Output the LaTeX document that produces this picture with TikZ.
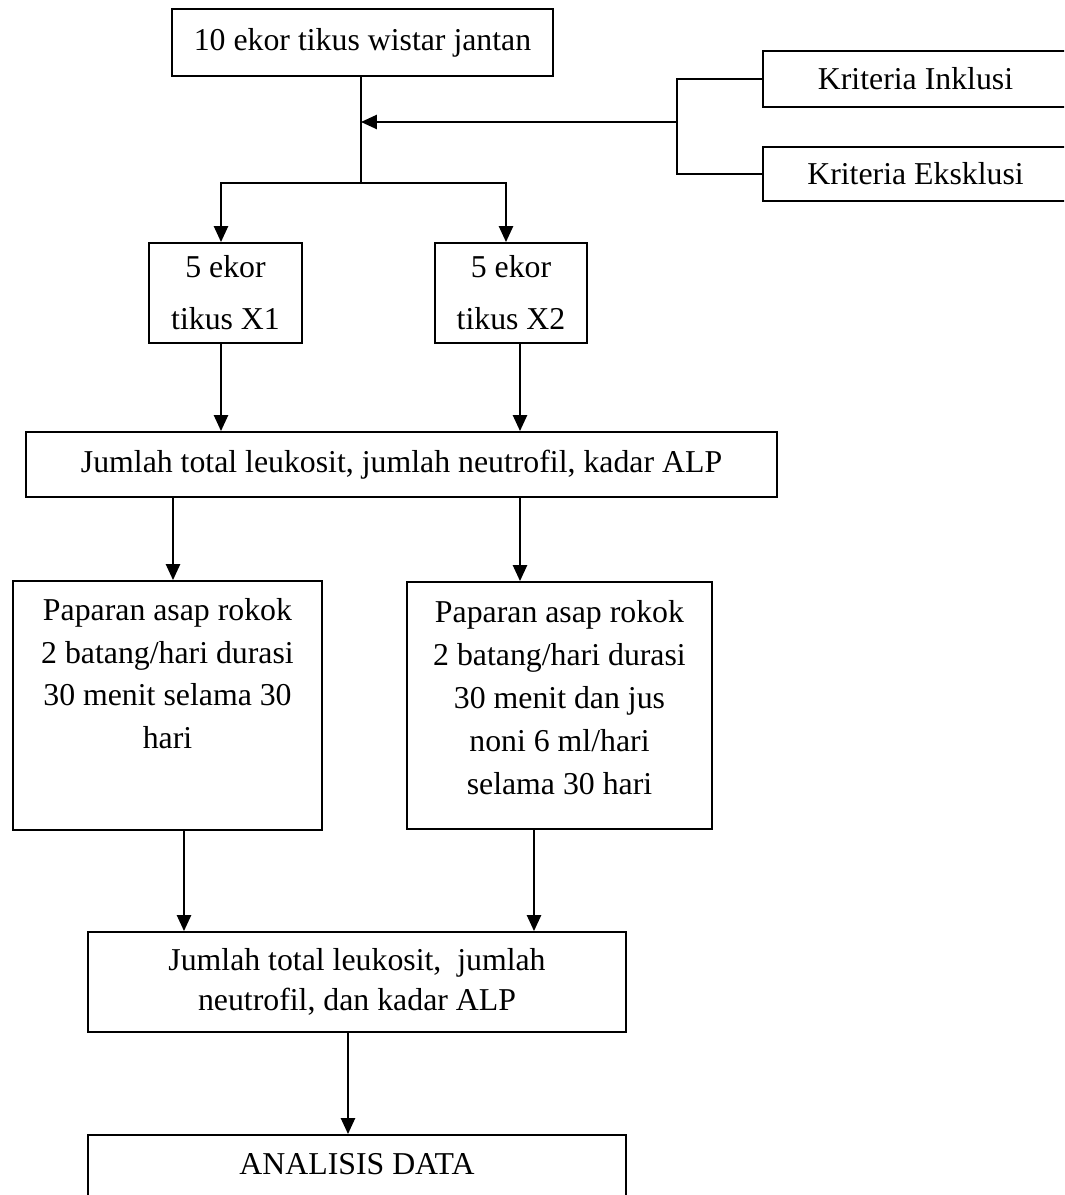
\documentclass[tikz,border=0pt]{standalone}
\usepackage{fontspec}
\setmainfont{Liberation Serif}
\usetikzlibrary{arrows.meta,positioning}

\begin{document}
\begin{tikzpicture}[x=0.02cm, y=-0.02cm, line width=1.1pt,
        kotak/.style={draw, rectangle, align=center, inner sep=2pt, font={\fontsize{18.1}{24.4}\selectfont}},
        kelompok/.style={kotak, font={\fontsize{18.1}{29.5}\selectfont}},
        panah/.style={-{Triangle[length=9pt,width=8pt]}}]
    \path[use as bounding box, clip] (0,0) rectangle (1064,1195);

    % Sampel
    \node[kotak, minimum width=7.62cm, minimum height=1.34cm] (tikus) at (362.5,42.5) {10 ekor tikus wistar jantan};
    \node[kotak, minimum width=6.1cm, minimum height=1.12cm] (inklusi) at (915.5,79) {Kriteria Inklusi};
    \node[kotak, minimum width=6.1cm, minimum height=1.08cm] (eksklusi) at (915.5,174) {Kriteria Eksklusi};
    \coordinate (kurung) at (677,122);
    \coordinate (masuk) at (361,122);
    \coordinate (cabang) at (361,183);
    \draw (inklusi.west) -| (kurung) |- (eksklusi.west);
    \draw[panah] (kurung) -- (masuk);
    \draw (tikus.south -| cabang) -- (cabang);

    % Kelompok
    \node[kelompok, minimum width=3.06cm, minimum height=2cm] (x1) at (225.5,293) {5 ekor\\tikus X1};
    \node[kelompok, minimum width=3.04cm, minimum height=2cm] (x2) at (511,293) {5 ekor\\tikus X2};
    \draw[panah] (cabang) -| (x1.north -| 221,0);
    \draw[panah] (cabang) -| (x2.north -| 506,0);

    % Pengukuran awal
    \node[kotak, minimum width=15.02cm, minimum height=1.3cm] (ukur1) at (401.5,464.5) {Jumlah total leukosit, jumlah neutrofil, kadar ALP};
    \draw[panah] (x1.south -| 221,0) -- (ukur1.north -| 221,0);
    \draw[panah] (x2.south -| 520,0) -- (ukur1.north -| 520,0);

    % Perlakuan
    \node[kotak, minimum width=6.18cm, minimum height=4.98cm] (papar1) at (167.5,705.5) {Paparan asap rokok\\2 batang/hari durasi\\30 menit selama 30\\hari\\[12pt]~};
    \node[kotak, minimum width=6.1cm, minimum height=4.94cm] (papar2) at (559.5,705.5) {Paparan asap rokok\\2 batang/hari durasi\\30 menit dan jus\\noni 6 ml/hari\\selama 30 hari\\[-15pt]~};
    \draw[panah] (ukur1.south -| 173,0) -- (papar1.north -| 173,0);
    \draw[panah] (ukur1.south -| 520,0) -- (papar2.north -| 520,0);

    % Pengukuran akhir
    \node[kotak, minimum width=10.76cm, minimum height=2cm, font={\fontsize{18.1}{23.2}\selectfont}] (ukur2) at (357,982) {Jumlah total leukosit,~ jumlah\\neutrofil, dan kadar ALP};
    \draw[panah] (papar1.south -| 184,0) -- (ukur2.north -| 184,0);
    \draw[panah] (papar2.south -| 534,0) -- (ukur2.north -| 534,0);

    % Analisis
    \node[kotak, anchor=north, minimum width=10.76cm, minimum height=2cm] (analisis) at (357,1134) {ANALISIS DATA\\~};
    \draw[panah] (ukur2.south -| 348,0) -- (analisis.north -| 348,0);
\end{tikzpicture}
\end{document}
